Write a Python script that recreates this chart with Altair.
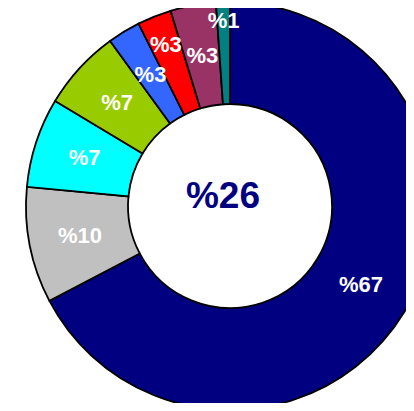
import math
import altair as alt
import pandas as pd

categories = ["navy", "gray", "cyan", "green", "blue", "red", "purple", "teal"]
values = [67.3, 9.2, 7.1, 6.4, 2.6, 2.7, 3.6, 1.1]
labels = ["%67", "%10", "%7", "%7", "%3", "%3", "%3", "%1"]
colors = ["#000080", "#C0C0C0", "#00FFFF", "#99CC00", "#3366FF", "#FF0000", "#993366", "#008080"]
center_label = ["%26"]

df = pd.DataFrame({
    "cat": categories,
    "value": values,
    "label": labels,
    "idx": list(range(len(categories))),
})

CX, CY = 222, 198
FONT = "Liberation Sans"

theta_scale = alt.Scale(domain=[0, 100], range=[0, 2 * math.pi])
color_scale = alt.Scale(domain=categories, range=colors)

base = alt.Chart(df)

arcs = base.mark_arc(
    outerRadius=204, innerRadius=102, stroke="black", strokeWidth=1.8
).encode(
    theta=alt.Theta("value:Q", stack=True, scale=theta_scale),
    order=alt.Order("idx:Q"),
    color=alt.Color("cat:N", scale=color_scale, legend=None),
    x=alt.value(CX),
    y=alt.value(CY),
)

texts = base.transform_window(
    cum="sum(value)", sort=[alt.SortField("idx")], frame=[None, 0]
).transform_calculate(
    mid="datum.cum - datum.value / 2",
    r="datum.cat == 'red' ? 173 : (datum.cat == 'teal' ? 185 : 153)",
).mark_text(
    font=FONT, fontWeight="bold", fontSize=22, color="white",
    align="center", baseline="middle"
).encode(
    theta=alt.Theta("mid:Q", scale=theta_scale),
    radius=alt.Radius("r:Q", scale=None),
    text="label:N",
    x=alt.value(CX),
    y=alt.value(CY),
)

center = alt.Chart(pd.DataFrame({"t": center_label})).mark_text(
    font=FONT, fontWeight="bold", fontSize=37, color="#000080",
    align="center", baseline="middle"
).encode(
    text="t:N",
    x=alt.value(215),
    y=alt.value(189),
)

chart = alt.layer(arcs, texts, center).properties(
    width=398, height=395, padding=0,
    autosize=alt.AutoSizeParams(type="none"),
).configure_view(stroke=None)

chart.save("out.html", embed_options={"renderer": "svg", "actions": False})
